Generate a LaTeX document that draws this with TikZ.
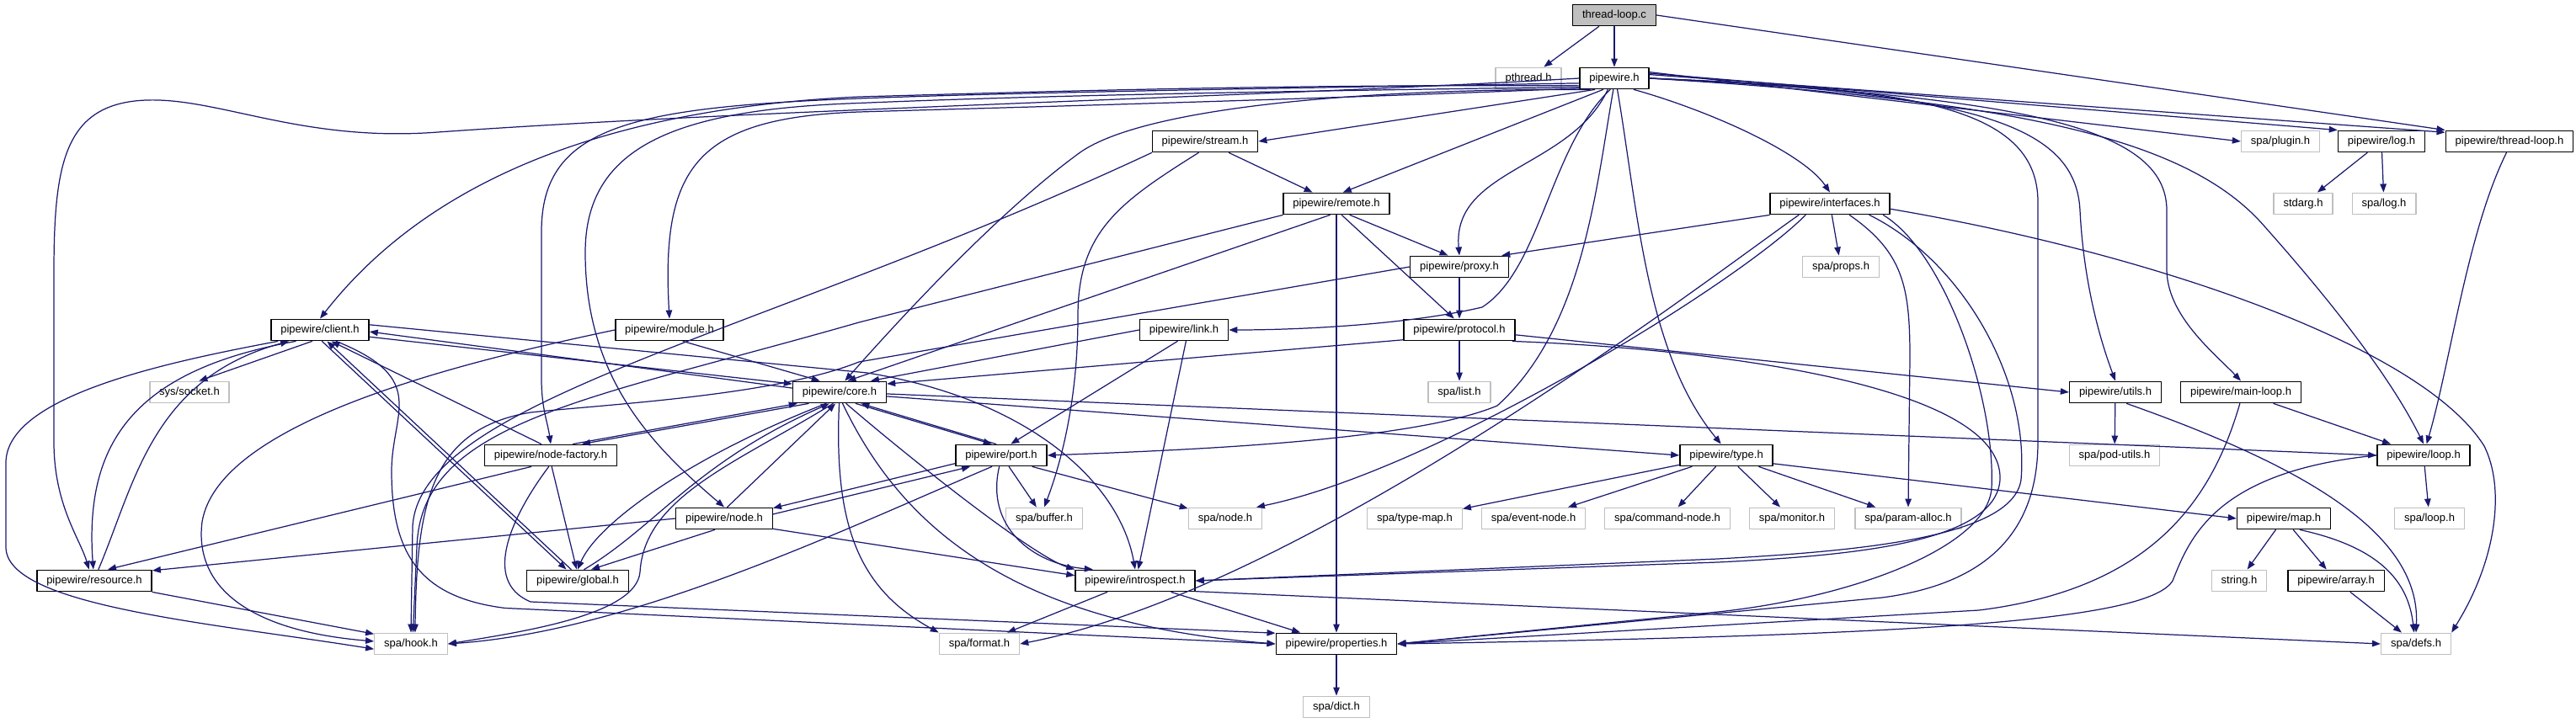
\documentclass[tikz,border=0pt]{standalone}
\usepackage{fontspec}
\setmainfont{Liberation Sans}
\usetikzlibrary{arrows.meta}

\definecolor{incblue}{HTML}{191970}
\definecolor{extframe}{HTML}{BFBFBF}
\definecolor{srcgray}{HTML}{BFBFBF}

\begin{document}
\begin{tikzpicture}[>={Triangle[length=0.2cm,width=0.15cm]}, line cap=round, line join=round,
  hdr/.style={draw=black, fill=white, line width=0.8pt, minimum height=0.51cm, inner xsep=6.5pt, inner ysep=0pt, font=\fontsize{7.4}{8.9}\selectfont},
  exthdr/.style={hdr, draw=extframe},
  srcfile/.style={hdr, fill=srcgray},
  inc/.style={->, draw=incblue, line width=0.7pt}]

\useasboundingbox (0,0) rectangle (61.18,-17.18);

% files, one row per include depth
\node[srcfile] (tlc) at (38.34,-0.36) {thread-loop.c};
\node[exthdr] (pthread) at (36.3,-1.86) {pthread.h};
\node[hdr] (pw) at (38.34,-1.86) {pipewire.h};
\node[hdr] (stream) at (28.62,-3.36) {pipewire/stream.h};
\node[exthdr] (plugin) at (54.16,-3.36) {spa/plugin.h};
\node[hdr] (log) at (56.56,-3.36) {pipewire/log.h};
\node[hdr] (tloop) at (59.6,-3.36) {pipewire/thread-loop.h};
\node[hdr] (remote) at (31.74,-4.84) {pipewire/remote.h};
\node[hdr] (iface) at (43.46,-4.84) {pipewire/interfaces.h};
\node[exthdr] (stdarg) at (54.7,-4.84) {stdarg.h};
\node[exthdr] (spalog) at (56.62,-4.84) {spa/log.h};
\node[hdr] (proxy) at (34.66,-6.34) {pipewire/proxy.h};
\node[exthdr] (spaprops) at (43.72,-6.34) {spa/props.h};
\node[hdr] (client) at (7.6,-7.84) {pipewire/client.h};
\node[hdr] (module) at (15.9,-7.84) {pipewire/module.h};
\node[hdr] (link) at (28.12,-7.84) {pipewire/link.h};
\node[hdr] (protocol) at (34.66,-7.84) {pipewire/protocol.h};
\node[exthdr] (socket) at (4.5,-9.32) {sys/socket.h};
\node[hdr] (core) at (19.94,-9.32) {pipewire/core.h};
\node[exthdr] (list) at (34.66,-9.32) {spa/list.h};
\node[hdr] (utils) at (50.24,-9.32) {pipewire/utils.h};
\node[hdr] (mainloop) at (53.22,-9.32) {pipewire/main-loop.h};
\node[hdr] (nfactory) at (13.08,-10.82) {pipewire/node-factory.h};
\node[hdr] (port) at (23.78,-10.82) {pipewire/port.h};
\node[hdr] (type) at (41.0,-10.82) {pipewire/type.h};
\node[exthdr] (podutils) at (50.22,-10.82) {spa/pod-utils.h};
\node[hdr] (loop) at (57.56,-10.82) {pipewire/loop.h};
\node[hdr] (node) at (17.2,-12.32) {pipewire/node.h};
\node[exthdr] (buffer) at (24.8,-12.32) {spa/buffer.h};
\node[exthdr] (spanode) at (29.1,-12.32) {spa/node.h};
\node[exthdr] (typemap) at (33.6,-12.32) {spa/type-map.h};
\node[exthdr] (eventnode) at (36.42,-12.32) {spa/event-node.h};
\node[exthdr] (cmdnode) at (39.6,-12.32) {spa/command-node.h};
\node[exthdr] (monitor) at (42.56,-12.32) {spa/monitor.h};
\node[exthdr] (paramalloc) at (45.32,-12.32) {spa/param-alloc.h};
\node[hdr] (map) at (54.24,-12.32) {pipewire/map.h};
\node[exthdr] (spaloop) at (57.7,-12.32) {spa/loop.h};
\node[hdr] (resource) at (2.24,-13.8) {pipewire/resource.h};
\node[hdr] (global) at (13.72,-13.8) {pipewire/global.h};
\node[hdr] (introspect) at (26.96,-13.8) {pipewire/introspect.h};
\node[exthdr] (string) at (53.18,-13.8) {string.h};
\node[hdr] (array) at (55.48,-13.8) {pipewire/array.h};
\node[exthdr] (hook) at (9.76,-15.3) {spa/hook.h};
\node[exthdr] (format) at (23.26,-15.3) {spa/format.h};
\node[hdr] (pwprops) at (31.74,-15.3) {pipewire/properties.h};
\node[exthdr] (defs) at (57.38,-15.3) {spa/defs.h};
\node[exthdr] (dict) at (31.74,-16.8) {spa/dict.h};

% thread-loop.c
\draw[inc] (tlc) -- (pthread);
\draw[inc] (tlc) -- (pw);
\draw[inc] (tlc.east) -- (tloop.north west);

% pipewire.h
\draw[inc] (pw.west) .. controls (30,-2.3) and (18,-2.6) .. (10.4,-3.14) .. controls (7,-3.4) and (5,-2.2) .. (3.2,-2.4) .. controls (1.5,-2.6) and (1.28,-4) .. (1.28,-6.5) -- (1.28,-10.5) .. controls (1.28,-12) and (1.9,-12.8) .. (resource.115);
\draw[inc] (pw.192) .. controls (30,-2.0) and (24,-2.2) .. (20.4,-2.3) .. controls (14,-2.6) and (10,-4.5) .. (client.north);
\draw[inc] (pw.196) .. controls (30,-2.4) and (24,-2.55) .. (20.4,-2.66) .. controls (16.5,-2.8) and (15.7,-4) .. (module.north);
\draw[inc] (pw.188) .. controls (30,-2.1) and (24,-2.2) .. (20.4,-2.34) .. controls (15,-2.55) and (12.86,-3) .. (12.86,-5.5) -- (12.86,-9) .. controls (12.86,-9.7) and (13,-10) .. (nfactory.north);
\draw[inc] (pw.194) .. controls (28,-2.2) and (24,-2.3) .. (20.4,-2.45) .. controls (16,-2.6) and (13.9,-3.5) .. (13.9,-6) .. controls (13.9,-9) and (15.5,-10.6) .. (node.north);
\draw[inc] (pw.205) .. controls (32,-2.1) and (27,-2.6) .. (25.6,-3.66) .. controls (23.5,-5.2) and (21,-8) .. (core.65);
\draw[inc] (pw.210) -- (stream.east);
\draw[inc] (pw.225) -- (remote.60);
\draw[inc] (pw.240) to[out=245,in=95] (proxy.north);
\draw[inc] (pw.250) .. controls (36.8,-3.5) and (36.6,-6.4) .. (35.2,-7.3) .. controls (33.5,-7.7) and (31,-7.84) .. (link.east);
\draw[inc] (pw.265) .. controls (37.9,-4.5) and (37.6,-7.8) .. (35.56,-9.64) .. controls (33.5,-10.5) and (28,-10.7) .. (port.east);
\draw[inc] (pw.285) .. controls (38.9,-5) and (39.1,-8.4) .. (type.115);
\draw[inc] (pw.330) .. controls (40.5,-2.6) and (42.8,-3.6) .. (iface.north);
\draw[inc] (pw.east) .. controls (45,-2.1) and (48.4,-2.4) .. (48.4,-4.8) -- (48.4,-10.5) .. controls (48.4,-12.8) and (47,-13.9) .. (44.7,-14.2) -- (pwprops.east);
\draw[inc] (pw.east) .. controls (47,-2.2) and (49.3,-3) .. (49.4,-5) .. controls (49.5,-7) and (50,-8.4) .. (utils.north);
\draw[inc] (pw.east) .. controls (48,-2.3) and (51.46,-3) .. (51.46,-5) -- (51.46,-6.4) .. controls (51.46,-7.5) and (52.6,-8.4) .. (mainloop.north);
\draw[inc] (pw.east) .. controls (48,-2.4) and (52,-3.3) .. (53.8,-5.4) .. controls (55.4,-7.2) and (56.8,-9) .. (loop.north);
\draw[inc] (pw.10) -- (plugin.west);
\draw[inc] (pw.8) -- (log.north west);
\draw[inc] (pw.6) -- (tloop.172);

% stream, remote, proxy, protocol, link
\draw[inc] (stream) -- (remote);
\draw[inc] (stream.240) .. controls (26.6,-4.8) and (25.6,-5.5) .. (25.6,-7.5) .. controls (25.6,-9.5) and (25.2,-11) .. (buffer.north);
\draw[inc] (stream.south west) .. controls (18,-8) and (10,-9.5) .. (9.8,-12.5) -- (hook.north);
\draw[inc] (remote.south west) -- (20.4,-7.66) .. controls (14,-9.5) and (10,-10) .. (9.9,-13) -- (hook.80);
\draw[inc] (remote.240) -- (core.55);
\draw[inc] (remote) -- (pwprops);
\draw[inc] (remote.-65) -- (protocol.115);
\draw[inc] (remote.-40) -- (proxy.135);
\draw[inc] (proxy) -- (protocol);
\draw[inc] (proxy.west) -- (20.4,-8.6) .. controls (18.4,-9.4) and (14.5,-9.6) .. (12.6,-9.8) .. controls (10.2,-10.2) and (9.9,-12) .. (hook.70);
\draw[inc] (protocol) -- (list);
\draw[inc] (protocol.190) -- (core.10);
\draw[inc] (protocol.-5) -- (utils.west);
\draw[inc] (protocol.-12) .. controls (41,-8.3) and (47.6,-9.2) .. (47.5,-11.4) .. controls (47.4,-12.9) and (44,-13.2) .. (40.8,-13.36) -- (introspect.east);
\draw[inc] (link.west) -- (core.20);
\draw[inc] (link.240) -- (port.50);
\draw[inc] (link.-80) -- (introspect.75);

% interfaces.h
\draw[inc] (iface.south west) -- (proxy.15);
\draw[inc] (iface) -- (spaprops);
\draw[inc] (iface.-30) .. controls (45.2,-6) and (45.36,-6.8) .. (45.36,-8.5) -- (paramalloc.north);
\draw[inc] (iface.205) .. controls (41.2,-6.8) and (34,-11.2) .. (spanode.20);
\draw[inc] (iface.200) .. controls (40.6,-6.6) and (31,-14) .. (format.east);
\draw[inc] (iface.-16) .. controls (46.6,-6.2) and (48.2,-9) .. (48.0,-11.4) .. controls (47.8,-12.8) and (44,-13.1) .. (40.8,-13.28) -- (introspect.east);
\draw[inc] (iface.-12) .. controls (46.2,-6) and (47.4,-9.5) .. (47.3,-11.6) .. controls (47.2,-13) and (44,-14.2) .. (40.8,-14.54) -- (pwprops.east);
\draw[inc] (iface.-5) .. controls (51,-6) and (57.5,-8.2) .. (59.0,-10.6) .. controls (59.5,-11.6) and (59.3,-13.3) .. (defs.north east);

% client.h, module.h
\draw[inc] (client.-125) -- (socket.50);
\draw[inc] (client.-8) -- (core.170);
\draw[inc] (core.175) -- (client.-2);
\draw[inc] (client.6) -- (20.6,-8.86) .. controls (24.5,-9.5) and (26.6,-11.5) .. (introspect.north);
\draw[inc] (client.195) .. controls (4,-8.6) and (0.14,-9.4) .. (0.14,-11) -- (0.14,-13) .. controls (0.14,-14.4) and (5,-14.8) .. (hook.188);
\draw[inc] (client.205) .. controls (3.2,-8.8) and (2.0,-10.5) .. (resource.95);
\draw[inc] (resource.70) .. controls (3.2,-11.5) and (3.6,-9) .. (client.200);
\draw[inc] (client.-80) -- (global.135);
\draw[inc] (global.120) -- (client.-58);
\draw[inc] (client.-35) .. controls (10.2,-9) and (9.3,-9.8) .. (9.3,-11.2) .. controls (9.3,-13.2) and (10,-14.2) .. (12,-14.45) -- (pwprops.west);
\draw[inc] (module.-40) -- (core.150);
\draw[inc] (module.west) .. controls (11,-8.6) and (5.2,-10) .. (4.8,-12.4) .. controls (4.6,-14) and (6,-15) .. (hook.176);

% core.h
\draw[inc] (core.-35) -- (port.130);
\draw[inc] (port.115) -- (core.-28);
\draw[inc] (core.-160) -- (nfactory.20);
\draw[inc] (nfactory.27) -- (core.-165);
\draw[inc] (core.-140) .. controls (16.5,-10.8) and (14.2,-12.4) .. (global.north);
\draw[inc] (global.60) .. controls (15.6,-12.5) and (16.5,-11) .. (core.-132);
\draw[inc] (core.-120) .. controls (17.5,-11) and (15.3,-11.8) .. (15.2,-13.6) .. controls (15.1,-14.6) and (12.5,-15) .. (hook.east);
\draw[inc] (core.-92) .. controls (19.8,-12.5) and (20.4,-14) .. (format.north west);
\draw[inc] (core.-75) .. controls (21.4,-12.5) and (24,-14.8) .. (pwprops.west);
\draw[inc] (core.-60) .. controls (21.5,-10.8) and (24.5,-13.2) .. (introspect.north west);
\draw[inc] (core.-5) -- (type.west);
\draw[inc] (core.-2) -- (loop.west);

% node-factory.h, port.h, node.h
\draw[inc] (nfactory.130) -- (client.-45);
\draw[inc] (nfactory.-150) -- (resource.40);
\draw[inc] (nfactory.-85) -- (global.95);
\draw[inc] (nfactory.-100) .. controls (12.2,-12.2) and (11.4,-13.8) .. (12.6,-14.3) -- (pwprops.170);
\draw[inc] (port) -- (buffer);
\draw[inc] (port.-20) -- (spanode.165);
\draw[inc] (port.-100) .. controls (23.4,-12.5) and (24.5,-13.4) .. (introspect.165);
\draw[inc] (port.-130) .. controls (20,-12.6) and (15,-15) .. (hook.east);
\draw[inc] (port.-170) -- (node.12);
\draw[inc] (node.5) -- (port.-160);
\draw[inc] (node.75) -- (core.-110);
\draw[inc] (node.west) -- (resource.10);
\draw[inc] (node.-130) -- (global.40);
\draw[inc] (node.-12) -- (introspect.175);
\draw[inc] (resource.south east) -- (hook.165);

% type.h and the lower rows
\draw[inc] (type) -- (typemap);
\draw[inc] (type) -- (eventnode);
\draw[inc] (type) -- (cmdnode);
\draw[inc] (type) -- (monitor);
\draw[inc] (type) -- (paramalloc);
\draw[inc] (type.-10) -- (map.west);
\draw[inc] (introspect) -- (format);
\draw[inc] (introspect) -- (pwprops);
\draw[inc] (introspect.-10) -- (defs.west);
\draw[inc] (pwprops) -- (dict);
\draw[inc] (utils) -- (podutils);
\draw[inc] (utils.-45) .. controls (54.5,-11) and (57.5,-12.6) .. (defs.north);
\draw[inc] (mainloop) -- (loop);
\draw[inc] (mainloop.-95) .. controls (52.5,-12) and (51,-14) .. (47,-14.5) -- (pwprops.east);
\draw[inc] (loop) -- (spaloop);
\draw[inc] (loop.west) .. controls (52.6,-11.2) and (52,-12.8) .. (51.6,-13.8) .. controls (51,-14.8) and (45,-15.1) .. (pwprops.east);
\draw[inc] (map) -- (string);
\draw[inc] (map) -- (array);
\draw[inc] (map.-35) .. controls (56.5,-13) and (57.2,-13.8) .. (defs.100);
\draw[inc] (array) -- (defs);
\draw[inc] (log) -- (stdarg);
\draw[inc] (log) -- (spalog);
\draw[inc] (tloop.-105) .. controls (58.6,-5.5) and (58.2,-8.6) .. (loop.75);

\end{tikzpicture}
\end{document}
